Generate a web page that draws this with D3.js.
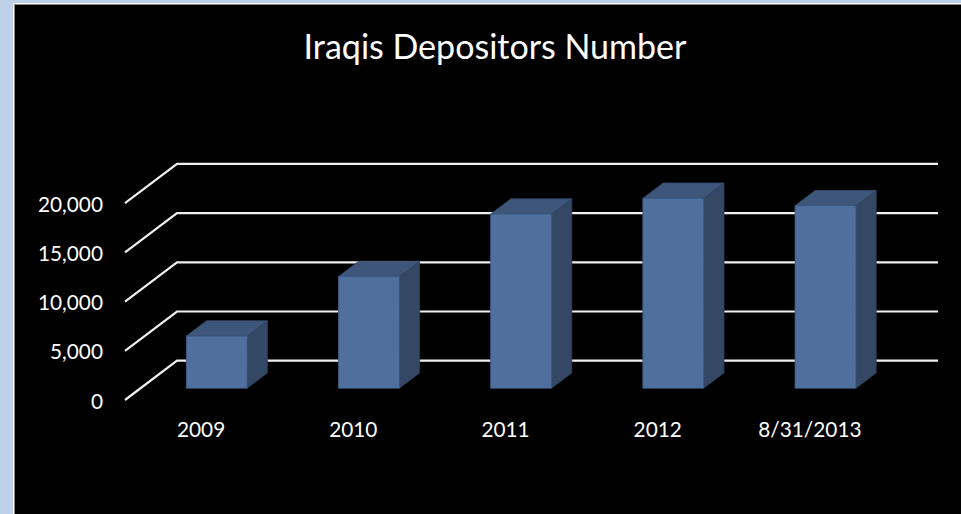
<!DOCTYPE html>
<html>
<head>
<meta charset="utf-8">
<script src="https://cdn.jsdelivr.net/npm/d3@7/dist/d3.min.js"></script>
<style>
  html, body { margin: 0; padding: 0; background: #bfd1e9; }
  svg { display: block; }
  text { font-family: Lato, "Open Sans", sans-serif; fill: #ffffff; }
</style>
</head>
<body>
<svg id="chart" width="961" height="514"></svg>
<script>
// ---- data ----
const categories = ["2009", "2010", "2011", "2012", "8/31/2013"];
const depositors = [5300, 11350, 17700, 19300, 18550];
const yTicks = [0, 5000, 10000, 15000, 20000];
const titleText = "Iraqis Depositors Number";

// ---- layout ----
const W = 961, H = 514;
const svg = d3.select("#chart");

// frame
svg.append("rect").attr("x", 0).attr("y", 0).attr("width", W).attr("height", H).attr("fill", "#bfd1e9");
svg.append("rect").attr("x", 13).attr("y", 3).attr("width", W - 13).attr("height", H - 3).attr("fill", "#ffffff");
svg.append("rect").attr("x", 14.5).attr("y", 4.5).attr("width", W).attr("height", H).attr("fill", "#000").attr("stroke", "#8a8a8a").attr("stroke-width", 1);

// 3D projection: depth d in [0,1] shifts point right and up
const depthDX = 52, depthDY = -39.3;
const proj = (x, y, d) => [x + d * depthDX, y + d * depthDY];

const x = d3.scaleBand().domain(categories).range([125, 886]).paddingInner(0.6).paddingOuter(0.3);
const y = d3.scaleLinear().domain([0, 20000]).range([400, 203.2]);

const floorLeft = 125, floorRight = 886;

// gridlines (left wall diagonal + back wall horizontal)
const grid = svg.append("g");
yTicks.forEach(v => {
  const p0 = proj(floorLeft, y(v), 0);
  const p1 = proj(floorLeft, y(v), 1);
  const p2 = proj(floorRight, y(v), 1);
  grid.append("path")
    .attr("d", d3.line()([p0, p1, p2]))
    .attr("fill", "none")
    .attr("stroke", "#f0f0f0")
    .attr("stroke-width", 2.2)
    .attr("stroke-linejoin", "miter");
});

// y axis labels
const yAxis = d3.axisLeft(y).tickValues(yTicks).tickFormat(d3.format(",")).tickSize(0).tickPadding(0);
const yg = svg.append("g").attr("transform", "translate(103,1.5)").call(yAxis);
yg.select(".domain").remove();
yg.selectAll("text").attr("fill", "#fff").style("font-size", "20.8px").style("font-family", "Lato, 'Open Sans', sans-serif");

// x axis labels
const xAxis = d3.axisBottom(x).tickSize(0).tickPadding(0);
const xg = svg.append("g").attr("transform", "translate(0,422)").call(xAxis);
xg.select(".domain").remove();
xg.selectAll("text").attr("fill", "#fff").attr("dy", "0").attr("y", 15.3).style("font-size", "20.8px").style("font-family", "Lato, 'Open Sans', sans-serif");

// bars
const d0 = 0.3, d1 = 0.69;
const bars = svg.append("g");
categories.forEach((c, i) => {
  const v = depositors[i];
  const xl = x(c), xr = x(c) + x.bandwidth();
  const yt = y(v), yb = y(0);
  const g = bars.append("g");
  // side face (right)
  g.append("path")
    .attr("d", d3.line()([proj(xr, yb, d0), proj(xr, yb, d1), proj(xr, yt, d1), proj(xr, yt, d0)]) + "Z")
    .attr("fill", "#344765").attr("stroke", "#2c3d58").attr("stroke-width", 0.8);
  // top face
  g.append("path")
    .attr("d", d3.line()([proj(xl, yt, d0), proj(xl, yt, d1), proj(xr, yt, d1), proj(xr, yt, d0)]) + "Z")
    .attr("fill", "#3e5679").attr("stroke", "#33486a").attr("stroke-width", 0.8);
  // front face
  const f0 = proj(xl, yt, d0), f1 = proj(xr, yb, d0);
  g.append("rect")
    .attr("x", f0[0]).attr("y", f0[1])
    .attr("width", f1[0] - f0[0]).attr("height", f1[1] - f0[1])
    .attr("fill", "#4f709d").attr("stroke", "#3d5a85").attr("stroke-width", 0.8);
});

// title
const title = svg.append("text")
  .attr("x", 495).attr("y", 59)
  .attr("text-anchor", "middle")
  .style("font-size", "32px")
  .text(titleText);
// fit title width to ~383px
const tl = title.node().getComputedTextLength();
if (tl > 0) title.style("font-size", (32 * 383 / tl).toFixed(2) + "px");
</script>
</body>
</html>
